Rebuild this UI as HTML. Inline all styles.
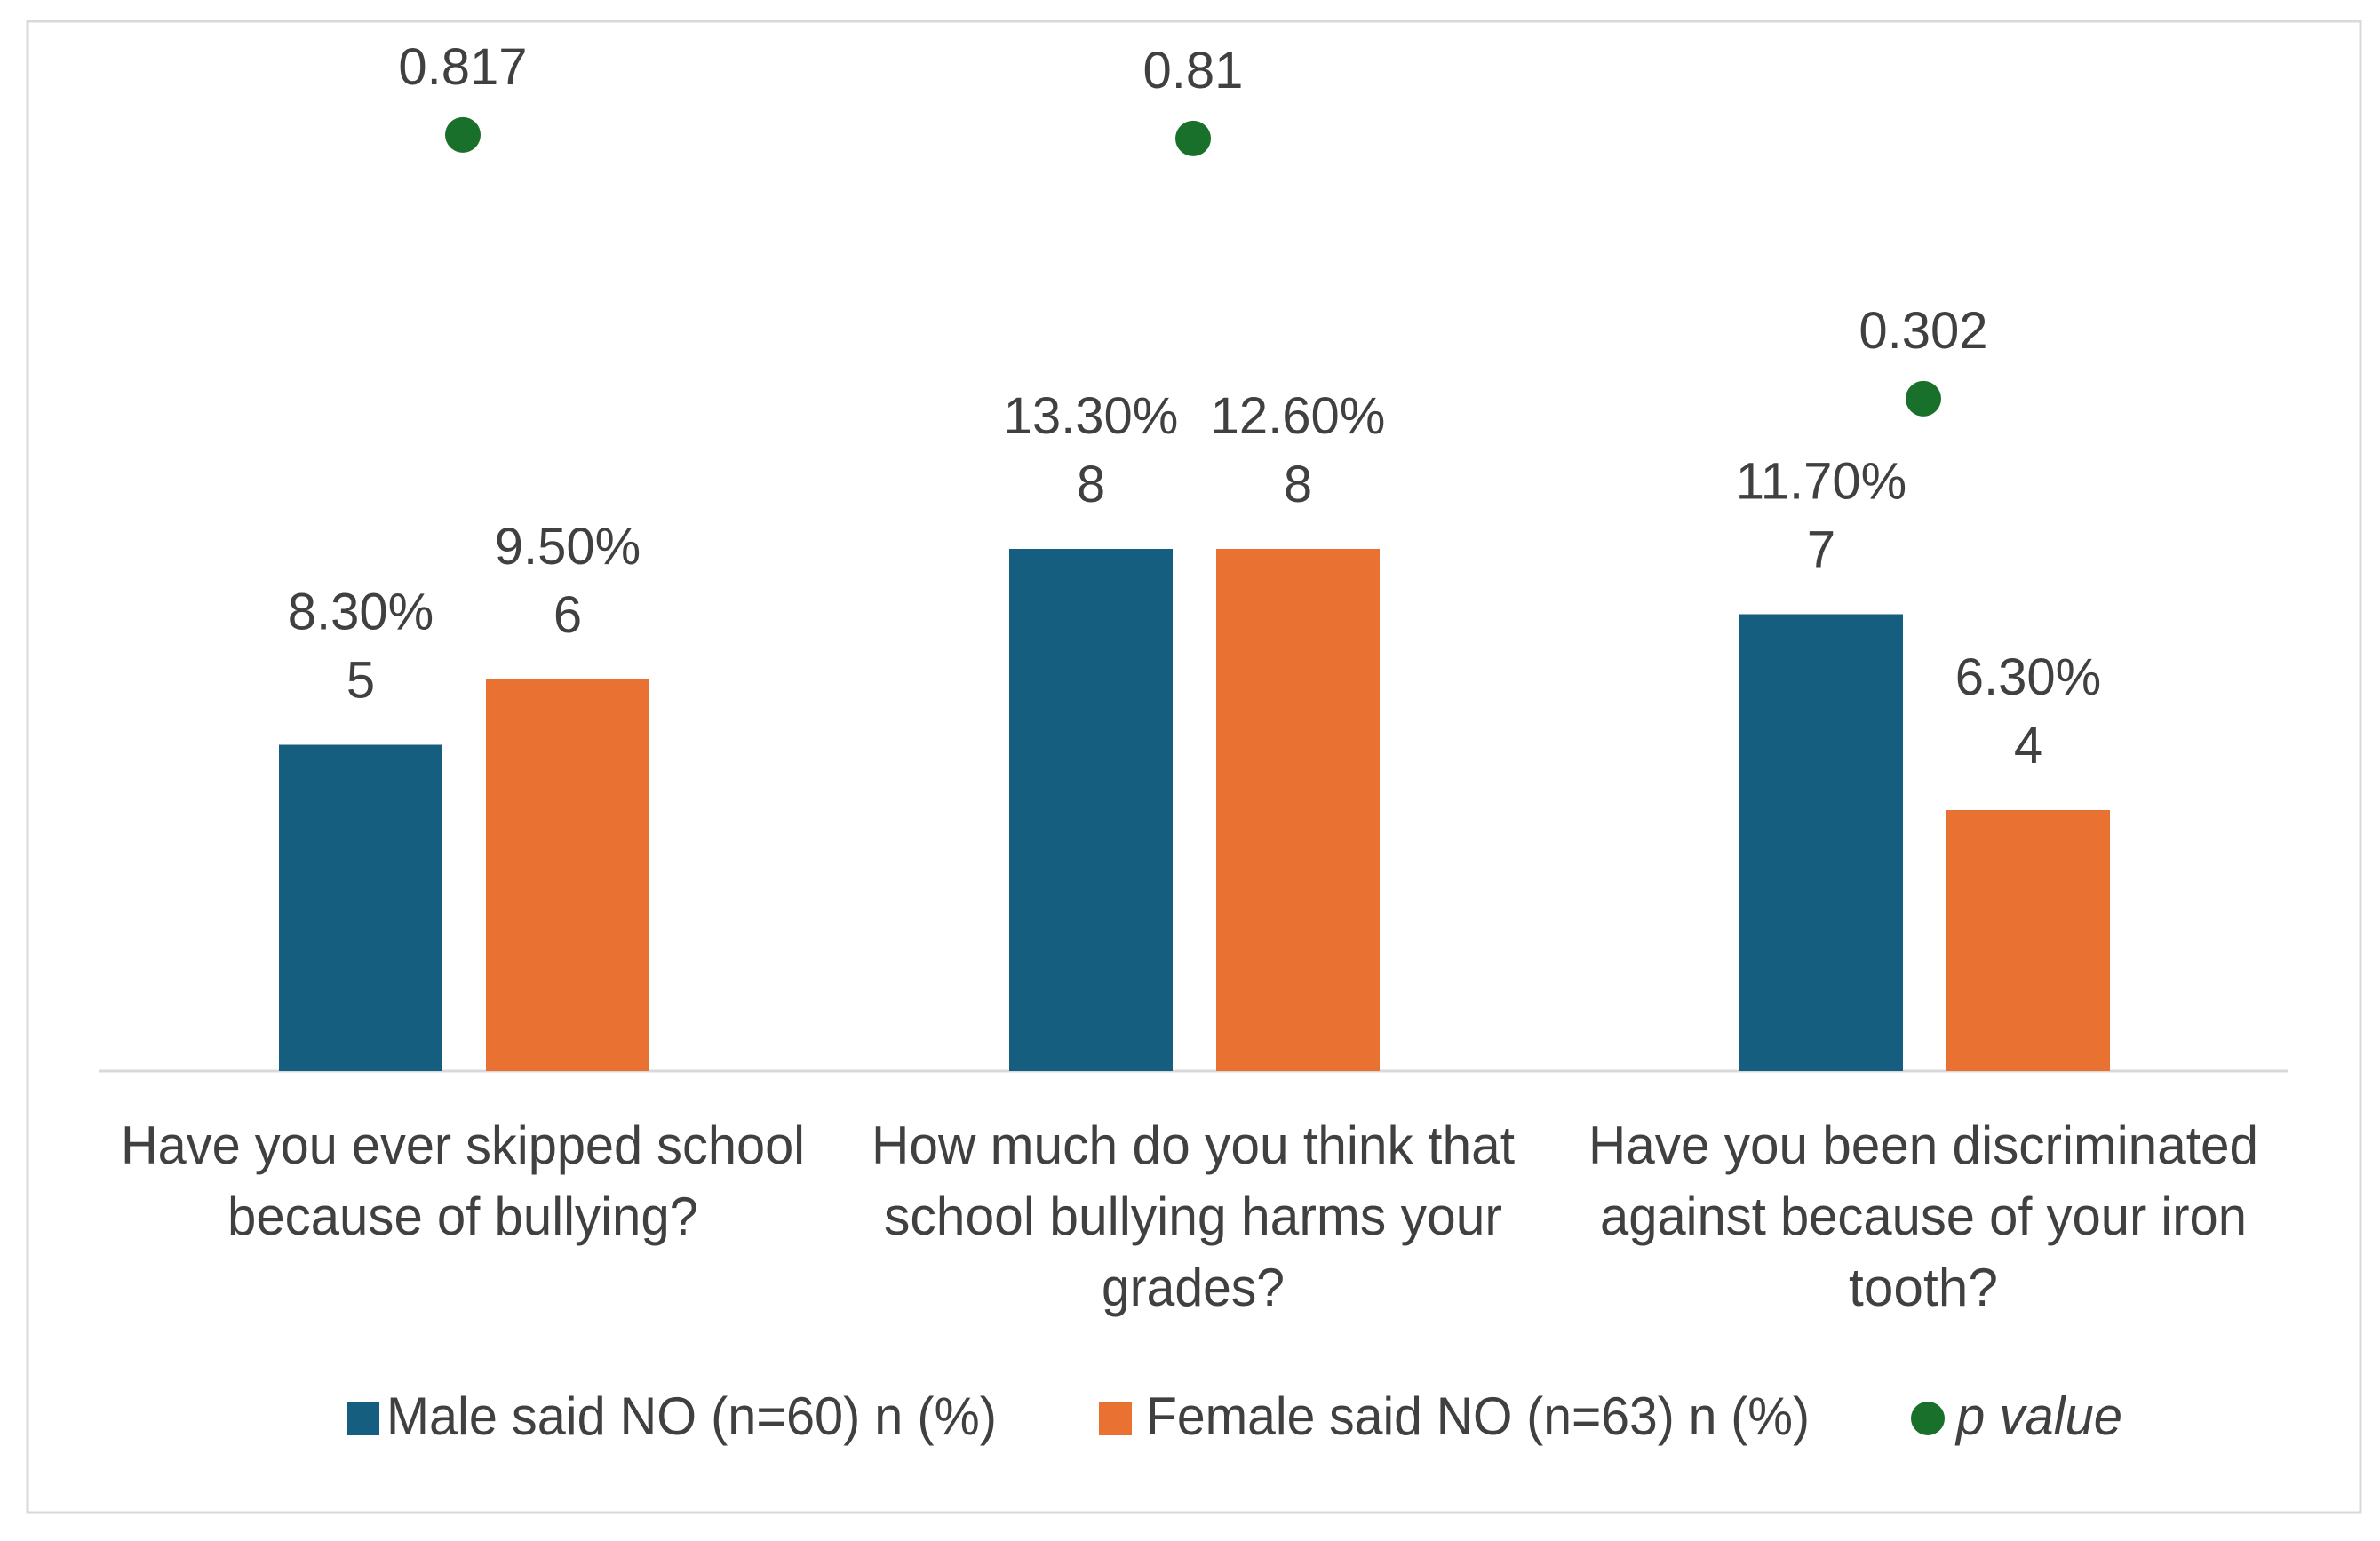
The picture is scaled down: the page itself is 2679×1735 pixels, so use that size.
<!DOCTYPE html>
<html><head><meta charset="utf-8">
<style>
html,body{margin:0;padding:0;background:#fff;}
svg{display:block;}
text{font-family:"Liberation Sans",sans-serif;fill:#404040;}
</style></head>
<body>
<svg id="chart" width="2679" height="1735" viewBox="0 0 2679 1735" xmlns="http://www.w3.org/2000/svg">
<rect x="31" y="24" width="2626" height="1679" fill="#fff" stroke="#d9d9d9" stroke-width="3"/>
<line x1="111" y1="1206" x2="2575" y2="1206" stroke="#d9d9d9" stroke-width="3"/>
<g id="marks"></g>
<g id="cats"></g>
<g>
<rect x="391" y="1579" width="36" height="37" fill="#155e80"/>
<text x="435" y="1615" font-size="60" textLength="687" lengthAdjust="spacingAndGlyphs">Male said NO (n=60) n (%)</text>
<rect x="1237" y="1579" width="37" height="37" fill="#e97132"/>
<text x="1290" y="1615" font-size="60" textLength="747" lengthAdjust="spacingAndGlyphs">Female said NO (n=63) n (%)</text>
<circle cx="2170" cy="1597" r="19" fill="#19702a"/>
<text x="2202" y="1615" font-size="60" font-style="italic" textLength="187" lengthAdjust="spacingAndGlyphs">p value</text>
</g>
</svg>
<script>
const categories = [
  ["Have you ever skipped school","because of bullying?"],
  ["How much do you think that","school bullying harms your","grades?"],
  ["Have you been discriminated","against because of your iron","tooth?"]
];
const maleCounts = [5, 8, 7];
const femaleCounts = [6, 8, 4];
const malePct = ["8.30%", "13.30%", "11.70%"];
const femalePct = ["9.50%", "12.60%", "6.30%"];
const pValues = [0.817, 0.81, 0.302];
const pLabels = ["0.817", "0.81", "0.302"];
const catLineWidths = [[770, 530], [724, 696, 206], [754, 728, 168]];

const NS = "http://www.w3.org/2000/svg";
const baseY = 1206, unitPx = 73.5;
function yCount(v){ return baseY - v * unitPx; }
function yP(p){ return 623 - p * 576.7; }
function xCenter(i){ return 521 + i * 822; }
const barW = 184, offM = -115, offF = 118;
const marks = document.getElementById('marks');
const cats = document.getElementById('cats');
function mk(tag, attrs, parent){ const e = document.createElementNS(NS, tag); for (const k in attrs) e.setAttribute(k, attrs[k]); parent.appendChild(e); return e; }

categories.forEach((lines, i) => {
  const cx = xCenter(i);
  [[maleCounts[i], malePct[i], offM, '#155e80', 'male'], [femaleCounts[i], femalePct[i], offF, '#e97132', 'female']].forEach(([v, pct, off, col, nm]) => {
    const top = yCount(v);
    const r = mk('rect', {x: cx + off - barW/2, y: top, width: barW, height: baseY - top, fill: col}, marks);
    
    
    const t1 = mk('text', {x: cx + off, y: top - 130, 'font-size': 58, 'text-anchor': 'middle'}, marks);
    t1.textContent = pct;
    
    
    const t2 = mk('text', {x: cx + off, y: top - 53, 'font-size': 58, 'text-anchor': 'middle'}, marks);
    t2.textContent = String(v);
    
    
  });
  const py = yP(pValues[i]);
  const c = mk('circle', {cx: cx, cy: py, r: 20, fill: '#19702a'}, marks);
  
  
  const pt = mk('text', {x: cx, y: py - 57, 'font-size': 58, 'text-anchor': 'middle'}, marks);
  pt.textContent = pLabels[i];
  
  
  lines.forEach((ln, j) => {
    const t = mk('text', {x: cx, y: 1310 + j * 80, 'font-size': 60, 'text-anchor': 'middle', textLength: catLineWidths[i][j], lengthAdjust: 'spacingAndGlyphs'}, cats);
    t.textContent = ln;
    
    
  });
});
</script>
</body></html>
